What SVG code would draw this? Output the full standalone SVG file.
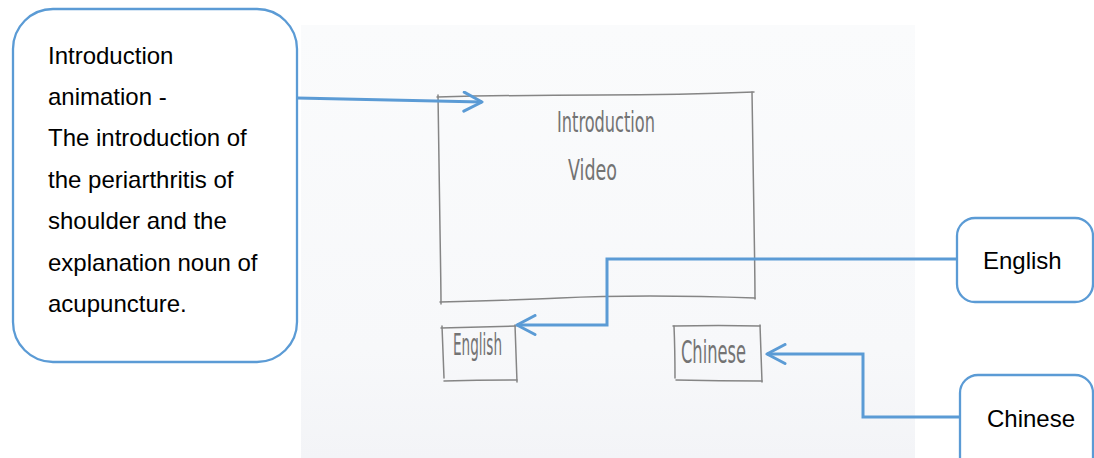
<svg xmlns="http://www.w3.org/2000/svg" width="1094" height="458" viewBox="0 0 1094 458">
  <style>
    .callout { fill: #ffffff; stroke: #5b9bd5; stroke-width: 2.3; }
    .label { font-family: "Liberation Sans", Arial, sans-serif; font-size: 24px; fill: #000000; }
    .pencil { fill: none; stroke: #858585; stroke-width: 1.5; stroke-linecap: round; stroke-linejoin: round; }
    .hand { font-family: "Liberation Sans Narrow", "DejaVu Sans Condensed", sans-serif; fill: #737373; font-weight: normal; }
    .link { fill: none; stroke: #5b9bd5; stroke-width: 3; stroke-linejoin: miter; marker-end: url(#open-arrow); }
  </style>
  <defs>
    <linearGradient id="paper-tone" x1="0" y1="0" x2="0" y2="1">
      <stop offset="0" stop-color="#fafbfc"/>
      <stop offset="0.75" stop-color="#f7f8fa"/>
      <stop offset="1" stop-color="#f3f4f7"/>
    </linearGradient>
    <marker id="open-arrow" viewBox="0 0 22 22" refX="20" refY="11" markerWidth="22" markerHeight="22" markerUnits="userSpaceOnUse" orient="auto">
      <path d="M2,1.5 L20,11 L2,20.5" fill="none" stroke="#5b9bd5" stroke-width="3" stroke-linecap="round" stroke-linejoin="round"/>
    </marker>
  </defs>

  <!-- page background and the scanned sheet -->
  <rect x="0" y="0" width="1094" height="458" fill="#ffffff"/>
  <rect x="301" y="25" width="614" height="433" fill="url(#paper-tone)"/>

  <!-- pencil sketch: video frame -->
  <g id="sketch-video">
    <path class="pencil" d="M437,97 Q520,95 600,95 T754,92"/>
    <path class="pencil" d="M752,92 Q753,160 754,220 T755,299"/>
    <path class="pencil" d="M755,298 Q700,296 650,296 T560,298 T440,302"/>
    <path class="pencil" d="M438,95 Q439,170 440,230 T441,304"/>
    <text class="hand" x="557" y="132" font-size="28" textLength="98" lengthAdjust="spacingAndGlyphs">Introduction</text>
    <text class="hand" x="568" y="180" font-size="28" textLength="49" lengthAdjust="spacingAndGlyphs">Video</text>
  </g>

  <!-- pencil sketch: English button -->
  <g id="sketch-english">
    <path class="pencil" d="M441,328 Q480,327 516,326"/>
    <path class="pencil" d="M515,325 Q516,355 517,382"/>
    <path class="pencil" d="M517,380 Q480,380 444,381"/>
    <path class="pencil" d="M442,326 Q443,350 444,378"/>
    <text class="hand" x="453" y="355" font-size="30" textLength="49" lengthAdjust="spacingAndGlyphs">English</text>
  </g>

  <!-- pencil sketch: Chinese button -->
  <g id="sketch-chinese">
    <path class="pencil" d="M673,326 Q720,325 760,326"/>
    <path class="pencil" d="M760,325 Q761,355 762,382"/>
    <path class="pencil" d="M762,381 Q720,381 676,380"/>
    <path class="pencil" d="M674,326 Q675,350 675,378"/>
    <text class="hand" x="681" y="363" font-size="32" textLength="65" lengthAdjust="spacingAndGlyphs">Chinese</text>
  </g>

  <!-- annotation callouts -->
  <g id="callout-intro">
    <rect class="callout" x="13" y="9" width="284" height="353" rx="40" ry="40"/>
    <text class="label" x="48" y="64">Introduction</text>
    <text class="label" x="48" y="105">animation -</text>
    <text class="label" x="48" y="146">The introduction of</text>
    <text class="label" x="48" y="187.5">the periarthritis of</text>
    <text class="label" x="48" y="229">shoulder and the</text>
    <text class="label" x="48" y="270.5">explanation noun of</text>
    <text class="label" x="48" y="312">acupuncture.</text>
  </g>

  <g id="callout-english">
    <rect class="callout" x="957" y="218" width="136" height="84" rx="18" ry="18"/>
    <text class="label" x="983" y="269">English</text>
  </g>

  <g id="callout-chinese">
    <rect class="callout" x="960" y="375" width="133" height="100" rx="18" ry="18"/>
    <text class="label" x="987" y="427">Chinese</text>
  </g>

  <!-- connectors -->
  <g id="connectors">
    <path class="link" d="M297,98 L482,102"/>
    <path class="link" d="M957,259 H607 V325 H517"/>
    <path class="link" d="M961,417 H863 V354 H767"/>
  </g>
</svg>
